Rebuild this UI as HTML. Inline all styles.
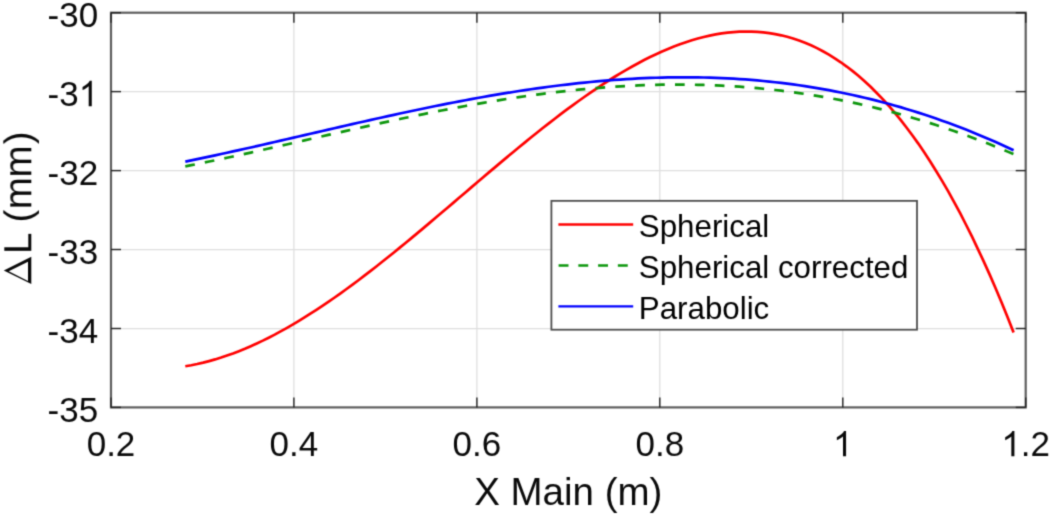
<!DOCTYPE html>
<html><head><meta charset="utf-8"><title>chart</title>
<style>
html,body{margin:0;padding:0;background:#fff;}
body{width:1050px;height:516px;overflow:hidden;}
svg{display:block;}
text{font-family:"Liberation Sans",sans-serif;fill:#0a0a0a;}
.tk{font-size:35px;}
.lb{font-size:38.5px;}
.lg{font-size:31.3px;fill:#000;}
</style></head><body>
<svg width="1050" height="516" viewBox="0 0 1050 516">
<defs><filter id="soft" x="0" y="0" width="1050" height="516" filterUnits="userSpaceOnUse" color-interpolation-filters="sRGB"><feConvolveMatrix order="3" kernelMatrix="0.02768 0.11101 0.02768 0.11101 0.44521 0.11101 0.02768 0.11101 0.02768" edgeMode="duplicate" preserveAlpha="true"/></filter></defs>
<rect x="0" y="0" width="1050" height="516" fill="#fff"/>
<g filter="url(#soft)">
<rect x="0" y="0" width="1050" height="516" fill="#fff"/>

<g stroke="#dedede" stroke-width="1.25" fill="none">
<line x1="293.9" y1="12.7" x2="293.9" y2="407.4"/>
<line x1="476.9" y1="12.7" x2="476.9" y2="407.4"/>
<line x1="659.8" y1="12.7" x2="659.8" y2="407.4"/>
<line x1="842.8" y1="12.7" x2="842.8" y2="407.4"/>
<line x1="111.0" y1="91.6" x2="1025.7" y2="91.6"/>
<line x1="111.0" y1="170.6" x2="1025.7" y2="170.6"/>
<line x1="111.0" y1="249.5" x2="1025.7" y2="249.5"/>
<line x1="111.0" y1="328.5" x2="1025.7" y2="328.5"/>
</g>
<path d="M185.3,366.25 L191.3,365.21 L197.2,364.01 L203.2,362.64 L209.1,361.11 L215.1,359.42 L221.1,357.58 L227.0,355.58 L233.0,353.44 L238.9,351.15 L244.9,348.73 L250.8,346.16 L256.8,343.46 L262.8,340.64 L268.7,337.68 L274.7,334.60 L280.6,331.40 L286.6,328.08 L292.6,324.65 L298.5,321.11 L304.5,317.46 L310.4,313.71 L316.4,309.86 L322.4,305.92 L328.3,301.88 L334.3,297.76 L340.2,293.55 L346.2,289.26 L352.2,284.89 L358.1,280.46 L364.1,275.95 L370.0,271.37 L376.0,266.74 L381.9,262.04 L387.9,257.30 L393.9,252.50 L399.8,247.65 L405.8,242.77 L411.7,237.84 L417.7,232.88 L423.7,227.89 L429.6,222.88 L435.6,217.84 L441.5,212.78 L447.5,207.71 L453.5,202.63 L459.4,197.54 L465.4,192.45 L471.3,187.36 L477.3,182.28 L483.2,177.21 L489.2,172.15 L495.2,167.12 L501.1,162.10 L507.1,157.11 L513.0,152.16 L519.0,147.24 L525.0,142.36 L530.9,137.52 L536.9,132.74 L542.8,128.00 L548.8,123.33 L554.8,118.72 L560.7,114.17 L566.7,109.70 L572.6,105.30 L578.6,100.98 L584.6,96.74 L590.5,92.60 L596.5,88.55 L602.4,84.59 L608.4,80.74 L614.3,77.00 L620.3,73.37 L626.3,69.86 L632.2,66.46 L638.2,63.20 L644.1,60.06 L650.1,57.06 L656.1,54.21 L662.0,51.49 L668.0,48.93 L673.9,46.52 L679.9,44.27 L685.9,42.19 L691.8,40.28 L697.8,38.54 L703.7,36.98 L709.7,35.60 L715.7,34.41 L721.6,33.42 L727.6,32.63 L733.5,32.04 L739.5,31.66 L745.4,31.50 L751.4,31.56 L757.4,31.84 L763.3,32.35 L769.3,33.09 L775.2,34.08 L781.2,35.31 L787.2,36.79 L793.1,38.53 L799.1,40.53 L805.0,42.79 L811.0,45.33 L817.0,48.14 L822.9,51.24 L828.9,54.62 L834.8,58.30 L840.8,62.27 L846.7,66.55 L852.7,71.14 L858.7,76.05 L864.6,81.27 L870.6,86.82 L876.5,92.70 L882.5,98.92 L888.5,105.48 L894.4,112.39 L900.4,119.65 L906.3,127.27 L912.3,135.26 L918.3,143.61 L924.2,152.35 L930.2,161.46 L936.1,170.96 L942.1,180.86 L948.1,191.16 L954.0,201.86 L960.0,212.97 L965.9,224.50 L971.9,236.45 L977.8,248.82 L983.8,261.64 L989.8,274.89 L995.7,288.59 L1001.7,302.74 L1007.6,317.35 L1013.6,332.42" fill="none" stroke="#ff0000" stroke-width="2.7" stroke-linejoin="round"/>
<path d="M185.3,166.34 L191.3,165.17 L197.2,163.97 L203.2,162.76 L209.1,161.54 L215.1,160.29 L221.1,159.04 L227.0,157.76 L233.0,156.48 L238.9,155.18 L244.9,153.87 L250.8,152.56 L256.8,151.23 L262.8,149.89 L268.7,148.55 L274.7,147.20 L280.6,145.85 L286.6,144.49 L292.6,143.13 L298.5,141.77 L304.5,140.40 L310.4,139.04 L316.4,137.67 L322.4,136.30 L328.3,134.94 L334.3,133.58 L340.2,132.22 L346.2,130.87 L352.2,129.53 L358.1,128.18 L364.1,126.85 L370.0,125.52 L376.0,124.21 L381.9,122.90 L387.9,121.60 L393.9,120.31 L399.8,119.04 L405.8,117.78 L411.7,116.53 L417.7,115.29 L423.7,114.07 L429.6,112.86 L435.6,111.67 L441.5,110.50 L447.5,109.35 L453.5,108.21 L459.4,107.09 L465.4,105.99 L471.3,104.91 L477.3,103.86 L483.2,102.82 L489.2,101.81 L495.2,100.82 L501.1,99.85 L507.1,98.91 L513.0,97.99 L519.0,97.10 L525.0,96.23 L530.9,95.39 L536.9,94.58 L542.8,93.79 L548.8,93.04 L554.8,92.31 L560.7,91.61 L566.7,90.94 L572.6,90.30 L578.6,89.70 L584.6,89.12 L590.5,88.58 L596.5,88.07 L602.4,87.59 L608.4,87.14 L614.3,86.73 L620.3,86.36 L626.3,86.01 L632.2,85.71 L638.2,85.44 L644.1,85.20 L650.1,85.01 L656.1,84.85 L662.0,84.72 L668.0,84.64 L673.9,84.59 L679.9,84.59 L685.9,84.62 L691.8,84.69 L697.8,84.80 L703.7,84.95 L709.7,85.14 L715.7,85.37 L721.6,85.65 L727.6,85.96 L733.5,86.32 L739.5,86.72 L745.4,87.16 L751.4,87.64 L757.4,88.17 L763.3,88.74 L769.3,89.35 L775.2,90.01 L781.2,90.71 L787.2,91.46 L793.1,92.25 L799.1,93.08 L805.0,93.96 L811.0,94.89 L817.0,95.86 L822.9,96.87 L828.9,97.93 L834.8,99.04 L840.8,100.19 L846.7,101.39 L852.7,102.64 L858.7,103.93 L864.6,105.27 L870.6,106.66 L876.5,108.09 L882.5,109.57 L888.5,111.10 L894.4,112.67 L900.4,114.29 L906.3,115.96 L912.3,117.68 L918.3,119.44 L924.2,121.25 L930.2,123.11 L936.1,125.02 L942.1,126.97 L948.1,128.97 L954.0,131.02 L960.0,133.12 L965.9,135.27 L971.9,137.46 L977.8,139.70 L983.8,141.99 L989.8,144.32 L995.7,146.71 L1001.7,149.14 L1007.6,151.62 L1013.6,154.14" fill="none" stroke="#0c960c" stroke-width="2.7" stroke-dasharray="9.7 10.2" stroke-linejoin="round"/>
<path d="M185.3,161.56 L191.3,160.35 L197.2,159.12 L203.2,157.87 L209.1,156.61 L215.1,155.34 L221.1,154.05 L227.0,152.75 L233.0,151.44 L238.9,150.12 L244.9,148.79 L250.8,147.45 L256.8,146.11 L262.8,144.75 L268.7,143.39 L274.7,142.03 L280.6,140.66 L286.6,139.28 L292.6,137.91 L298.5,136.53 L304.5,135.15 L310.4,133.77 L316.4,132.39 L322.4,131.01 L328.3,129.63 L334.3,128.26 L340.2,126.89 L346.2,125.52 L352.2,124.16 L358.1,122.80 L364.1,121.45 L370.0,120.11 L376.0,118.78 L381.9,117.45 L387.9,116.14 L393.9,114.83 L399.8,113.54 L405.8,112.26 L411.7,110.98 L417.7,109.73 L423.7,108.48 L429.6,107.26 L435.6,106.04 L441.5,104.84 L447.5,103.66 L453.5,102.50 L459.4,101.35 L465.4,100.23 L471.3,99.12 L477.3,98.03 L483.2,96.96 L489.2,95.92 L495.2,94.89 L501.1,93.89 L507.1,92.91 L513.0,91.96 L519.0,91.03 L525.0,90.12 L530.9,89.24 L536.9,88.39 L542.8,87.56 L548.8,86.76 L554.8,85.99 L560.7,85.25 L566.7,84.54 L572.6,83.85 L578.6,83.20 L584.6,82.58 L590.5,81.99 L596.5,81.43 L602.4,80.91 L608.4,80.42 L614.3,79.96 L620.3,79.53 L626.3,79.14 L632.2,78.79 L638.2,78.47 L644.1,78.19 L650.1,77.95 L656.1,77.74 L662.0,77.57 L668.0,77.44 L673.9,77.35 L679.9,77.30 L685.9,77.29 L691.8,77.32 L697.8,77.39 L703.7,77.50 L709.7,77.65 L715.7,77.85 L721.6,78.08 L727.6,78.36 L733.5,78.69 L739.5,79.06 L745.4,79.47 L751.4,79.93 L757.4,80.43 L763.3,80.98 L769.3,81.58 L775.2,82.22 L781.2,82.91 L787.2,83.65 L793.1,84.43 L799.1,85.27 L805.0,86.15 L811.0,87.08 L817.0,88.06 L822.9,89.09 L828.9,90.17 L834.8,91.30 L840.8,92.48 L846.7,93.71 L852.7,94.99 L858.7,96.33 L864.6,97.72 L870.6,99.16 L876.5,100.65 L882.5,102.20 L888.5,103.80 L894.4,105.45 L900.4,107.16 L906.3,108.92 L912.3,110.74 L918.3,112.61 L924.2,114.54 L930.2,116.52 L936.1,118.56 L942.1,120.66 L948.1,122.81 L954.0,125.01 L960.0,127.28 L965.9,129.60 L971.9,131.98 L977.8,134.42 L983.8,136.91 L989.8,139.47 L995.7,142.08 L1001.7,144.75 L1007.6,147.47 L1013.6,150.26" fill="none" stroke="#0000ff" stroke-width="2.7" stroke-linejoin="round"/>
<rect x="111.0" y="12.7" width="914.7" height="394.7" fill="none" stroke="#5e5e5e" stroke-width="2.2"/>
<g stroke="#222222" stroke-width="1.4" fill="none">
<line x1="111.0" y1="407.4" x2="111.0" y2="397.4"/>
<line x1="111.0" y1="12.7" x2="111.0" y2="22.7"/>
<line x1="293.9" y1="407.4" x2="293.9" y2="397.4"/>
<line x1="293.9" y1="12.7" x2="293.9" y2="22.7"/>
<line x1="476.9" y1="407.4" x2="476.9" y2="397.4"/>
<line x1="476.9" y1="12.7" x2="476.9" y2="22.7"/>
<line x1="659.8" y1="407.4" x2="659.8" y2="397.4"/>
<line x1="659.8" y1="12.7" x2="659.8" y2="22.7"/>
<line x1="842.8" y1="407.4" x2="842.8" y2="397.4"/>
<line x1="842.8" y1="12.7" x2="842.8" y2="22.7"/>
<line x1="1025.7" y1="407.4" x2="1025.7" y2="397.4"/>
<line x1="1025.7" y1="12.7" x2="1025.7" y2="22.7"/>
<line x1="111.0" y1="12.7" x2="121.0" y2="12.7"/>
<line x1="1025.7" y1="12.7" x2="1015.7" y2="12.7"/>
<line x1="111.0" y1="91.6" x2="121.0" y2="91.6"/>
<line x1="1025.7" y1="91.6" x2="1015.7" y2="91.6"/>
<line x1="111.0" y1="170.6" x2="121.0" y2="170.6"/>
<line x1="1025.7" y1="170.6" x2="1015.7" y2="170.6"/>
<line x1="111.0" y1="249.5" x2="121.0" y2="249.5"/>
<line x1="1025.7" y1="249.5" x2="1015.7" y2="249.5"/>
<line x1="111.0" y1="328.5" x2="121.0" y2="328.5"/>
<line x1="1025.7" y1="328.5" x2="1015.7" y2="328.5"/>
<line x1="111.0" y1="407.4" x2="121.0" y2="407.4"/>
<line x1="1025.7" y1="407.4" x2="1015.7" y2="407.4"/>
</g>
<text class="tk" transform="translate(111.0,456.3) scale(1,1.012)" text-anchor="middle">0.2</text>
<text class="tk" transform="translate(293.9,456.3) scale(1,1.012)" text-anchor="middle">0.4</text>
<text class="tk" transform="translate(476.9,456.3) scale(1,1.012)" text-anchor="middle">0.6</text>
<text class="tk" transform="translate(659.8,456.3) scale(1,1.012)" text-anchor="middle">0.8</text>
<path transform="translate(833.03,456.30) scale(0.017090,-0.017295)" fill="#0a0a0a" d="M763 0H583V1147Q518 1085 412.5 1023T223 930V1104Q373 1175 485.5 1275T645 1469H763Z"/>
<path transform="translate(1001.37,456.30) scale(0.017090,-0.017295)" fill="#0a0a0a" d="M763 0H583V1147Q518 1085 412.5 1023T223 930V1104Q373 1175 485.5 1275T645 1469H763Z"/>
<text class="tk" transform="translate(1020.83,456.3) scale(1,1.012)" text-anchor="start">.2</text>
<text class="tk" transform="translate(98.2,27.2) scale(1,1.012)" text-anchor="end">-30</text>
<text class="tk" transform="translate(78.73,106.1) scale(1,1.012)" text-anchor="end">-3</text>
<path transform="translate(78.73,106.14) scale(0.017090,-0.017295)" fill="#0a0a0a" d="M763 0H583V1147Q518 1085 412.5 1023T223 930V1104Q373 1175 485.5 1275T645 1469H763Z"/>
<text class="tk" transform="translate(98.2,185.1) scale(1,1.012)" text-anchor="end">-32</text>
<text class="tk" transform="translate(98.2,264.0) scale(1,1.012)" text-anchor="end">-33</text>
<text class="tk" transform="translate(98.2,343.0) scale(1,1.012)" text-anchor="end">-34</text>
<text class="tk" transform="translate(98.2,421.9) scale(1,1.012)" text-anchor="end">-35</text>
<text class="lb" x="568.3" y="504.7" text-anchor="middle">X Main (m)</text>
<g transform="translate(31.3,290) rotate(-90)">
<text class="lb" x="36.1 55 67.5 80.7 112.4 145.7" y="0">L (mm)</text>
</g>
<path d="M3.8,270.4 L31.3,256.8 L31.3,284 Z M8.75,271.35 L28,261.8 L28,280.9 Z" fill="#0a0a0a" fill-rule="evenodd"/>
<rect x="551.4" y="200.85" width="365.6" height="128.85" fill="#fff" stroke="#4e4e4e" stroke-width="1.8"/>
<line x1="558.4" y1="224.5" x2="633.2" y2="224.5" stroke="#ff0000" stroke-width="2.4"/>
<line x1="558.6" y1="265.5" x2="633.2" y2="265.5" stroke="#0c960c" stroke-width="2.4" stroke-dasharray="9.9 9.85"/>
<line x1="558.4" y1="306.4" x2="633.2" y2="306.4" stroke="#0000ff" stroke-width="2.4"/>
<text class="lg" x="638.8" y="236.5">Spherical</text>
<text class="lg" x="638.8" y="277.6">Spherical corrected</text>
<text class="lg" x="638.8" y="318.6">Parabolic</text>
</g></svg></body></html>
